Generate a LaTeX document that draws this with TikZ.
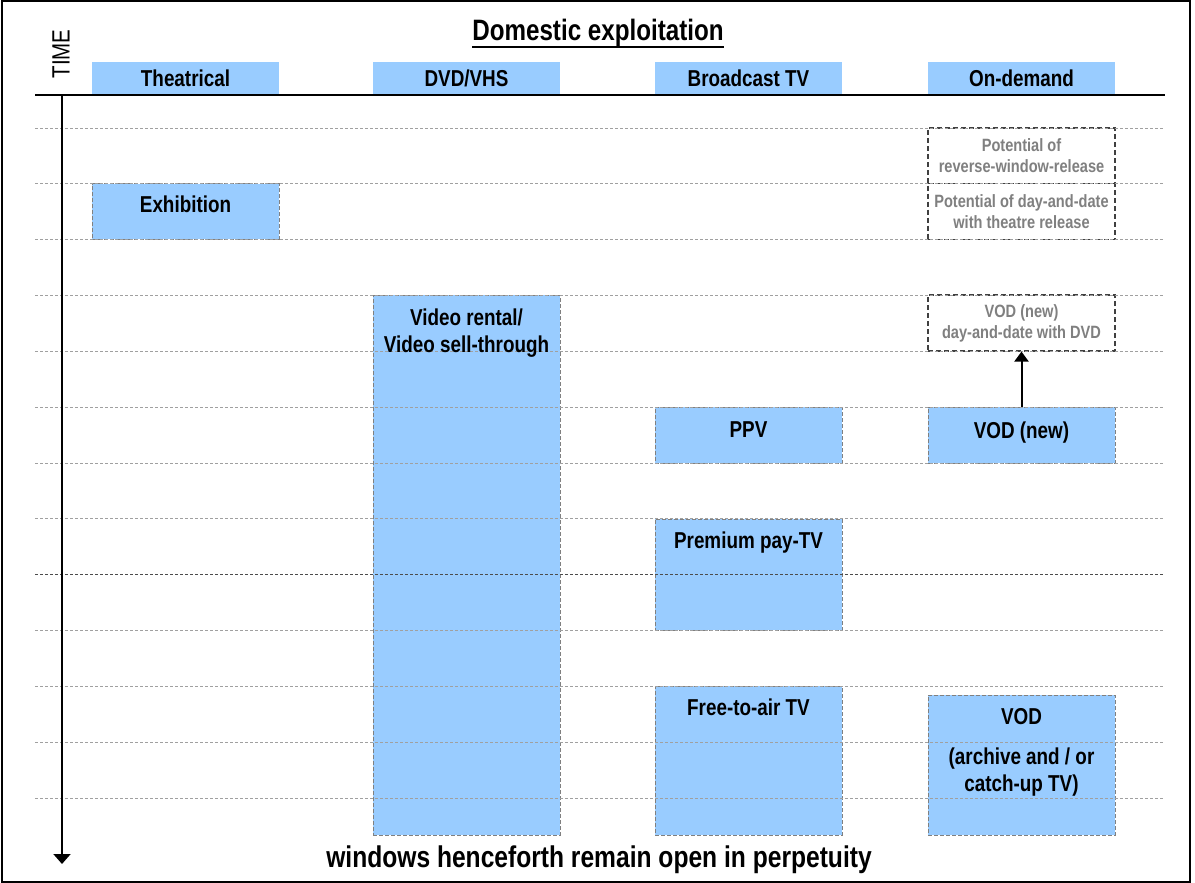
\documentclass[tikz,border=0pt]{standalone}
\usepackage{fontspec}
\setmainfont{Liberation Sans}[FakeStretch=0.82]
\usepackage{tikz}
\usetikzlibrary{calc,positioning,arrows.meta}

\definecolor{winblue}{HTML}{99CCFF}
\definecolor{wingrey}{HTML}{808080}
\definecolor{gridgrey}{HTML}{A0A0A0}

\tikzset{
  headbox/.style={fill=winblue, minimum width=187pt, minimum height=33pt, inner sep=0pt,
    font=\fontsize{23}{27}\selectfont\bfseries},
  winbox/.style={fill=winblue, draw=wingrey, dash pattern=on 4pt off 2pt, line width=1pt,
    minimum width=187pt, inner sep=0pt},
  wintext/.style={anchor=north, inner sep=0pt, align=center,
    font=\fontsize{23}{27}\selectfont\bfseries},
  potbox/.style={fill=white, draw=black!75, dash pattern=on 5pt off 3pt, line width=1.1pt,
    minimum width=187pt, minimum height=56pt, inner sep=0pt, align=center,
    text=wingrey, font=\fontsize{17.8}{21}\selectfont\bfseries},
  gridline/.style={gridgrey, dash pattern=on 3pt off 2pt, line width=0.8pt}
}

\begin{document}
\begin{tikzpicture}[x=1pt,y=-1pt]
  \useasboundingbox (0,0) rectangle (1195,883);

  % Frame
  \draw[line width=1.5pt] (2,1) rectangle (1190,882);

  % Title
  \node[inner sep=0pt, font=\fontsize{29.5}{33}\selectfont\bfseries] (title) at (598,33) {Domestic exploitation};
  \draw[line width=2.5pt] (title.south west) -- (title.south east);

  % Time axis label
  \node[rotate=90, inner sep=0pt, font=\fontsize{25}{29}\selectfont] (time) at (61,54) {TIME};

  % Column heads (centres 185.5, 466.5, 748.5, 1021.5)
  \node[headbox] (theat) at (185.5,78.5) {Theatrical};
  \node[headbox] (dvd)   at (466.5,78.5) {DVD/VHS};
  \node[headbox] (bctv)  at (748.5,78.5) {Broadcast TV};
  \node[headbox] (ondem) at (1021.5,78.5) {On-demand};

  % Header line
  \coordinate (HL) at (35,95);
  \coordinate (HR) at (1165,95);
  \draw[line width=1.5pt] (HL) -- (HR);

  % Windows (blue boxes)
  \node[winbox, minimum height=55.5pt] (exhib) at (185.5,211.5) {};
  \node[winbox, minimum height=540pt]  (video) at (466.5,565) {};
  \node[winbox, minimum height=56pt]   (ppv)   at (748.5,435) {};
  \node[winbox, minimum height=111pt]  (prem)  at (748.5,574.5) {};
  \node[winbox, minimum height=149pt]  (free)  at (748.5,760.5) {};
  \node[winbox, minimum height=56pt]   (vodnew) at (1021.5,435) {};
  \node[winbox, minimum height=140pt]  (vodarch) at (1021.5,765) {};

  % Potential windows (grey dashed)
  \node[potbox] (revwin) at (1021.5,156) {Potential of\\reverse-window-release};
  \node[potbox] (daydate) at (1021.5,211.5) {Potential of day-and-date\\with theatre release};
  \node[potbox] (voddvd) at (1021.5,323) {VOD (new)\\day-and-date with DVD};

  % Time grid
  \foreach \k in {0,...,12}{
    \pgfmathsetmacro{\yy}{128+55.83*\k}
    \ifnum\k=8
      \draw[gridline, black!70] (35,\yy) -- (1163,\yy);
    \else
      \draw[gridline] (35,\yy) -- (1163,\yy);
    \fi
  }

  % Window labels
  \node[wintext] at ([yshift=-12pt]exhib.north) {Exhibition};
  \node[wintext] at ([yshift=-14pt]video.north) {Video rental/\\Video sell-through};
  \node[wintext] at ([yshift=-15pt]ppv.north) {PPV};
  \node[wintext] at ([yshift=-13pt]prem.north) {Premium pay-TV};
  \node[wintext] at ([yshift=-13pt]free.north) {Free-to-air TV};
  \node[wintext] at ([yshift=-15pt]vodnew.north) {VOD (new)};
  \node[wintext] at ([yshift=-14pt]vodarch.north) {VOD\\[13pt](archive and / or\\catch-up TV)};

  % VOD moves forward
  \draw[-{Triangle[length=10pt,width=14pt]}, line width=2pt] (vodnew.north) -- (voddvd.south);

  % Time arrow
  \coordinate (T0) at (62,95);
  \coordinate (T1) at (62,864);
  \draw[-{Triangle[length=10pt,width=17pt]}, line width=2pt] (T0) -- (T1);

  % Bottom note
  \node[inner sep=0pt, font=\fontsize{30}{34}\selectfont\bfseries] (perp) at (599,860) {windows henceforth remain open in perpetuity};
\end{tikzpicture}
\end{document}
